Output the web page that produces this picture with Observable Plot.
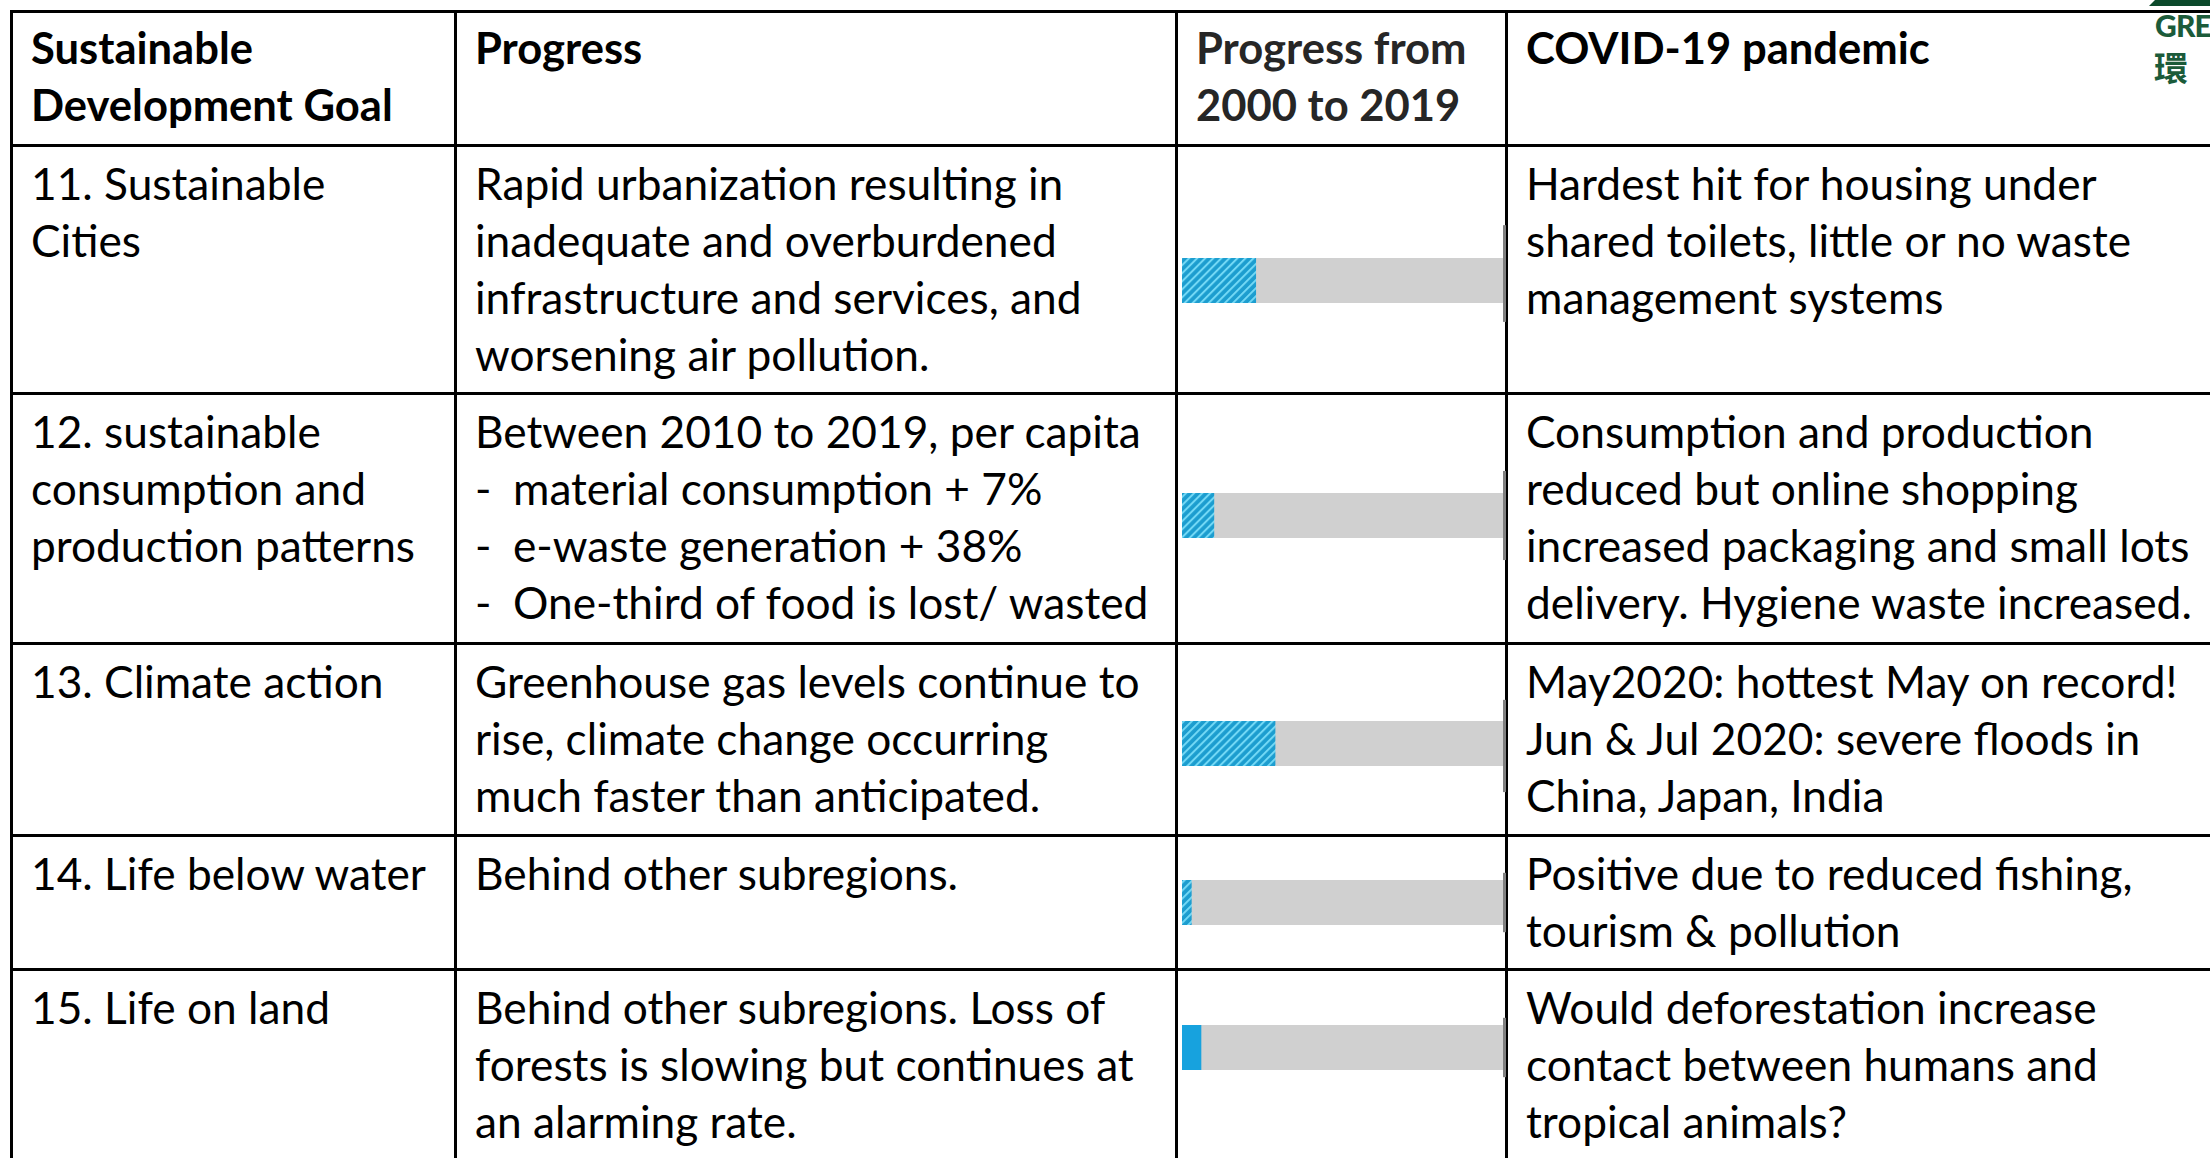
<!DOCTYPE html>
<html>
<head>
<meta charset="utf-8">
<script src="https://cdn.jsdelivr.net/npm/d3@7"></script>
<script src="https://cdn.jsdelivr.net/npm/@observablehq/plot@0.6"></script>
<style>
  html, body { margin: 0; padding: 0; background: #fff; width: 2210px; height: 1158px; overflow: hidden; }
  #table { position: absolute; left: 10px; top: 10px; display: grid;
           border-left: 3px solid #000; border-top: 3px solid #000; }
  .cell { box-sizing: border-box; border-right: 3px solid #000; border-bottom: 3px solid #000;
          position: relative; white-space: pre; color: #000; font-family: Lato, "Open Sans", sans-serif;
          tab-size: 38px; -moz-tab-size: 38px; overflow: visible; }
  .cell svg { position: absolute; left: 0; top: 0; overflow: visible; }
  #logo-roof { position: absolute; left: 2149px; top: 0; width: 70px; height: 6px; background: #0c4a2b;
               clip-path: polygon(6px 0, 100% 0, 100% 100%, 0 100%); }
  #logo-en { position: absolute; left: 2155px; top: 7px; font: 900 30px Lato, sans-serif; color: #1b5b3a; white-space: nowrap; letter-spacing: -0.8px; }
  #logo-zh { position: absolute; left: 2154px; top: 42px; font: 700 34px "Noto Sans CJK TC", sans-serif; color: #1b5b3a; white-space: nowrap; }
</style>
</head>
<body>
<div id="logo-roof"></div>
<div id="logo-en">GRE</div>
<div id="logo-zh">環</div>
<div id="table"></div>
<script>
// ---------- data ----------
const headers = ["Sustainable\nDevelopment Goal", "Progress", "Progress from\n2000 to 2019", "COVID-19 pandemic"];
const goals = [
  "11. Sustainable\nCities",
  "12. sustainable\nconsumption and\nproduction patterns",
  "13. Climate action",
  "14. Life below water",
  "15. Life on land"
];
const progressNotes = [
  "Rapid urbanization resulting in\ninadequate and overburdened\ninfrastructure and services, and\nworsening air pollution.",
  "Between 2010 to 2019, per capita\n-\tmaterial consumption + 7%\n-\te-waste generation + 38%\n-\tOne-third of food is lost/ wasted",
  "Greenhouse gas levels continue to\nrise, climate change occurring\nmuch faster than anticipated.",
  "Behind other subregions.",
  "Behind other subregions. Loss of\nforests is slowing but continues at\nan alarming rate."
];
const progressValue = [23, 10, 29, 3, 6];      // progress made 2000-2019 (% of the way to target)
const progressMax = [100, 100, 100, 100, 100];
const hatched = [true, true, true, true, false];
const covidImpact = [
  "Hardest hit for housing under\nshared toilets, little or no waste\nmanagement systems",
  "Consumption and production\nreduced but online shopping\nincreased packaging and small lots\ndelivery. Hygiene waste increased.",
  "May2020: hottest May on record!\nJun & Jul 2020: severe floods in\nChina, Japan, India",
  "Positive due to reduced fishing,\ntourism & pollution",
  "Would deforestation increase\ncontact between humans and\ntropical animals?"
];

// ---------- layout ----------
const colWidths = [444, 721, 330, 760];
const rowHeights = [134, 248, 250, 192, 134, 192];
const lineHeight = 57;
const barShift = [11, -3, 4, 0, -18];
const tickTop = [1.23, 0.99, 0.97, 0.66, 0.66];
const tickBottom = [0.92, 0.99, 1.08, 0.66, 0.66];

// fit Lato to the widths of the reference's Calibri text
const ctx = document.createElement("canvas").getContext("2d");
function fitSize(samples, weight) {
  let r = 0;
  for (const [t, w] of samples) {
    ctx.font = `${weight} 100px Lato`;
    r += 100 * w / ctx.measureText(t).width;
  }
  return r / samples.length;
}
const F = fitSize([["Rapid urbanization resulting in", 593], ["Between 2010 to 2019, per capita", 656],
                   ["delivery. Hygiene waste increased.", 668], ["Behind other subregions. Loss of", 636]], 400);
const FB = fitSize([["Development Goal", 368], ["COVID-19 pandemic", 397]], 700);
function padTop(size, weight, target) {
  ctx.font = `${weight} ${size}px Lato`;
  const m = ctx.measureText("Hg");
  const a = m.fontBoundingBoxAscent ?? size * 0.987, d = m.fontBoundingBoxDescent ?? size * 0.213;
  return target - ((lineHeight - (a + d)) / 2 + a);
}

const table = document.getElementById("table");
table.style.gridTemplateColumns = colWidths.map(w => w + "px").join(" ");
table.style.gridTemplateRows = rowHeights.map(h => h + "px").join(" ");

function textCell(text, bold, color, target) {
  const c = document.createElement("div");
  c.className = "cell";
  const size = bold ? FB : F;
  c.style.fontSize = size + "px";
  c.style.fontWeight = bold ? 700 : 400;
  c.style.lineHeight = lineHeight + "px";
  c.style.paddingLeft = "18px";
  c.style.paddingTop = padTop(size, bold ? 700 : 400, target) + "px";
  if (color) c.style.color = color;
  c.textContent = text;
  table.appendChild(c);
  return c;
}

headers.forEach((h, j) => textCell(h, true, j === 2 ? "#262626" : null, 51.5));

goals.forEach((g, i) => {
  textCell(g, false, null, 53);
  textCell(progressNotes[i], false, null, 53);
  const cell = document.createElement("div");
  cell.className = "cell";
  table.appendChild(cell);
  const w = colWidths[2] - 3, h = rowHeights[i + 1] - 3;
  const cy = h / 2 + barShift[i];
  const d = [{goal: g, value: progressValue[i], max: progressMax[i]}];
  const pid = "hatch" + i;
  const svg = Plot.plot({
    width: w, height: h,
    marginLeft: 4, marginRight: 1, marginTop: 0, marginBottom: 0,
    x: {domain: [0, 100], axis: null},
    y: {domain: [-1, 1], range: [cy + 45, cy - 45], axis: null},
    style: {background: "transparent", overflow: "visible"},
    marks: [
      Plot.rect(d, {x1: 0, x2: "max", y1: -0.5, y2: 0.5, fill: "#d0d0d0"}),
      Plot.rect(d, {x1: 0, x2: "value", y1: -0.5, y2: 0.5,
                    fill: hatched[i] ? `url(#${pid})` : "#17a2de", ariaLabel: "progress"}),
      Plot.ruleX(d, {x: "max", y1: -tickBottom[i], y2: tickTop[i], stroke: "#808080", strokeWidth: 3})
    ]
  });
  if (hatched[i]) {
    const defs = d3.select(svg).insert("defs", ":first-child");
    const pat = defs.append("pattern").attr("id", pid).attr("patternUnits", "userSpaceOnUse")
      .attr("width", 5.7).attr("height", 5.7).attr("patternTransform", "rotate(45)");
    pat.append("rect").attr("width", 5.7).attr("height", 5.7).attr("fill", "#1c9dcf");
    pat.append("rect").attr("width", 2).attr("height", 5.7).attr("fill", "#72d8f5");
    d3.select(svg).selectAll('g[aria-label="progress"] rect').attr("fill", `url(#${pid})`);
  }
  cell.appendChild(svg);
  textCell(covidImpact[i], false, null, 53);
});
</script>
</body>
</html>
